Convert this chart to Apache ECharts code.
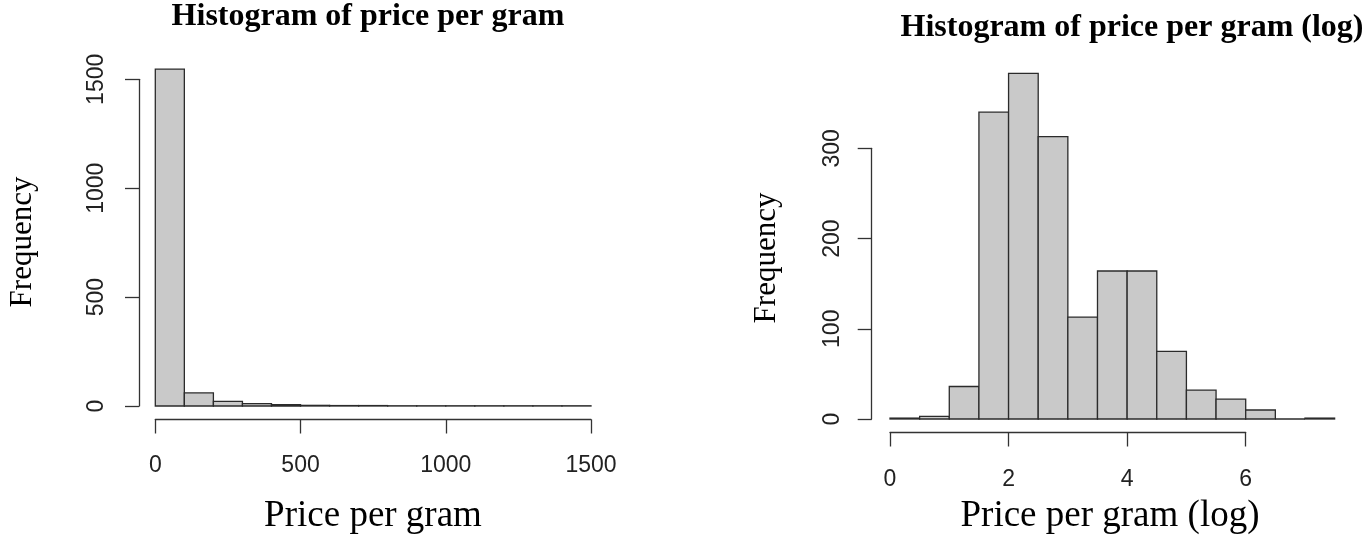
<!DOCTYPE html>
<html>
<head>
<meta charset="utf-8">
<script src="https://cdn.jsdelivr.net/npm/echarts@6/dist/echarts.min.js"></script>
<style>
  html, body { margin: 0; padding: 0; background: #fff; }
  #chart { width: 1369px; height: 547px; }
</style>
</head>
<body>
<div id="chart"></div>
<script>
// left histogram: bins of 100 from 0 to 1500
var priceBreaks = [0, 100, 200, 300, 400, 500, 600, 700, 800, 900, 1000, 1100, 1200, 1300, 1400, 1500];
var priceCounts = [1547, 60, 21, 11, 6, 3, 2, 2, 1, 1, 1, 1, 1, 1, 1];

// right histogram: bins of 0.5 from 0 to 7.5
var logBreaks = [0, 0.5, 1, 1.5, 2, 2.5, 3, 3.5, 4, 4.5, 5, 5.5, 6, 6.5, 7, 7.5];
var logCounts = [1, 3, 36, 340, 383, 313, 113, 164, 164, 75, 32, 22, 10, 0, 1];

var priceTicks = { min: 0, max: 1500, interval: 500 };
var priceFreqTicks = { min: 0, max: 1500, interval: 500 };
var logTicks = { min: 0, max: 6, interval: 2 };
var logFreqTicks = { min: 0, max: 300, interval: 100 };

function toBins(breaks, counts) {
  var out = [];
  for (var i = 0; i < counts.length; i++) {
    out.push([breaks[i], breaks[i + 1], counts[i]]);
  }
  return out;
}

function renderBin(params, api) {
  var p0 = api.coord([api.value(0), api.value(2)]);
  var p1 = api.coord([api.value(1), 0]);
  return {
    type: 'rect',
    shape: { x: p0[0], y: p0[1], width: p1[0] - p0[0], height: p1[1] - p0[1] },
    style: { fill: '#c9c9c9', stroke: '#2b2b2b', lineWidth: 1.3 }
  };
}

var tickFont = { fontFamily: 'Liberation Sans', fontSize: 23, color: '#222', formatter: function (v) { return String(v); } };
var axisStyle = { show: true, onZero: false, lineStyle: { color: '#333', width: 1.3 } };
var tickStyle = { show: true, inside: false, length: 14, lineStyle: { color: '#333', width: 1.3 } };

function xAxisOf(ticks, grid, margin) {
  return {
    type: 'value', gridIndex: grid,
    min: ticks.min, max: ticks.max, interval: ticks.interval,
    offset: 13.5,
    axisLine: axisStyle, axisTick: tickStyle,
    axisLabel: Object.assign({ margin: margin }, tickFont),
    splitLine: { show: false }
  };
}

function yAxisOf(ticks, grid, offset, margin) {
  return {
    type: 'value', gridIndex: grid,
    min: ticks.min, max: ticks.max, interval: ticks.interval,
    offset: offset,
    axisLine: axisStyle, axisTick: tickStyle,
    axisLabel: Object.assign({ margin: margin, rotate: 90 }, tickFont),
    splitLine: { show: false }
  };
}

// plain text pieces: titles and axis names
function label(text, x, y, font, rotation) {
  return {
    type: 'text', x: x, y: y, rotation: rotation || 0,
    style: { text: text, font: font, fill: '#000', align: 'center', verticalAlign: 'middle' }
  };
}

var titleFont = 'bold 32px "Liberation Serif"';
var xNameFont = '37px "Liberation Serif"';
var yNameFont = '31px "Liberation Serif"';

var chartDom = document.getElementById('chart');
var myChart = echarts.init(chartDom, null, { renderer: 'canvas' });
var option;

option = {
  backgroundColor: '#fff',
  animation: false,
  graphic: [
    label('Histogram of price per gram', 368, 17, titleFont),
    label('Histogram of price per gram (log)', 1132, 28, titleFont),
    label('Price per gram', 373, 516, xNameFont),
    label('Price per gram (log)', 1110, 516, xNameFont),
    label('Frequency', 23, 242, yNameFont, Math.PI / 2),
    label('Frequency', 767, 258, yNameFont, Math.PI / 2)
  ],
  grid: [
    { left: 155.3, top: 79.3, width: 435.7, height: 326.7 },
    { left: 890, top: 148.3, width: 355.7, height: 270.7 }
  ],
  xAxis: [
    xAxisOf(priceTicks, 0, 35),
    xAxisOf(logTicks, 1, 36)
  ],
  yAxis: [
    yAxisOf(priceFreqTicks, 0, 16.3, 31),
    yAxisOf(logFreqTicks, 1, 18.3, 28)
  ],
  series: [
    {
      type: 'custom', xAxisIndex: 0, yAxisIndex: 0, clip: false,
      renderItem: renderBin,
      encode: { x: [0, 1], y: 2 },
      data: toBins(priceBreaks, priceCounts)
    },
    {
      type: 'custom', xAxisIndex: 1, yAxisIndex: 1, clip: false,
      renderItem: renderBin,
      encode: { x: [0, 1], y: 2 },
      data: toBins(logBreaks, logCounts)
    }
  ]
};

option && myChart.setOption(option);
</script>
</body>
</html>
